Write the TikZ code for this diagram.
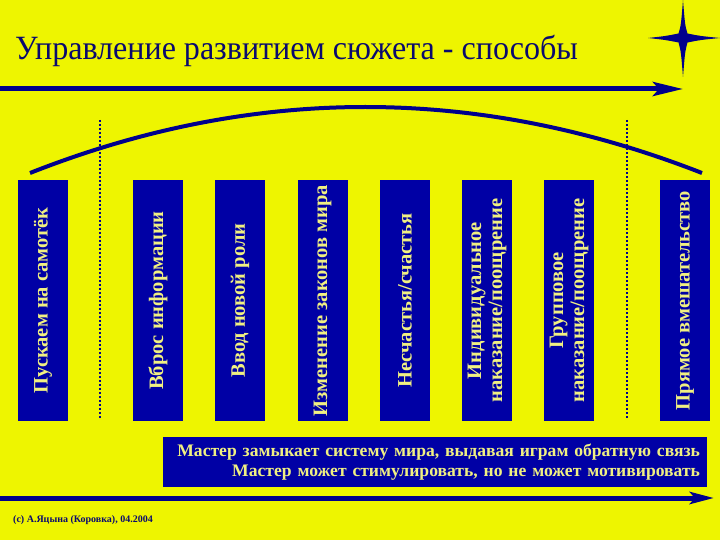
\documentclass[tikz,border=0pt]{standalone}
\usepackage{fontspec}
\setmainfont{Liberation Serif}
\usetikzlibrary{arrows.meta}
\definecolor{bgyellow}{RGB}{238,245,0}
\definecolor{boxblue}{RGB}{0,0,165}
\definecolor{linecol}{RGB}{0,0,140}
\definecolor{titlecol}{RGB}{10,10,110}
\definecolor{paleyellow}{RGB}{240,240,130}
\tikzset{
  vbox/.style={rotate=90, fill=boxblue, minimum width=241pt, minimum height=50pt,
    inner sep=0pt, text=paleyellow, font=\fontsize{20.5}{21}\selectfont\bfseries, align=center},
  guide/.style={draw=linecol, dotted, line width=2pt},
  mainline/.style={draw=linecol, line width=5pt},
}
\begin{document}
\begin{tikzpicture}[x=1pt, y=-1pt]
\fill[bgyellow] (0,0) rectangle (720,540);
\useasboundingbox (0,0) rectangle (720,540);
% title
\node[anchor=base west, inner sep=0pt, text=titlecol, font=\fontsize{34}{40}\selectfont] (title) at (15,60) {\scalebox{0.943}[1]{Управление развитием сюжета - способы}};
% star
\fill[linecol] (683,0) .. controls (685,25) .. (687.5,33.5) .. controls (700,36) .. (720,38)
  .. controls (700,40) .. (687.5,42.5) .. controls (685,52) .. (683,77)
  .. controls (681,52) .. (678.5,42.5) .. controls (666,40) .. (648,38)
  .. controls (666,36) .. (678.5,33.5) .. controls (681,25) .. (683,0) -- cycle;
% top arrow
\coordinate (ta) at (0,89);
\coordinate (tb) at (683,89);
\draw[mainline, -{Stealth[length=30pt,width=14pt,inset=6pt]}] (ta) -- (tb);
% bottom arrow
\coordinate (ba) at (0,498);
\coordinate (bb) at (714,498);
\draw[mainline, -{Stealth[length=24pt,width=12pt,inset=5pt]}] (ba) -- (bb);
% arc
\coordinate (arcA) at (30,173);
\coordinate (arcB) at (702,173);
\draw[linecol, line width=4pt] (arcA) .. controls (253,85) and (477,85) .. (arcB);
% dotted guides
\coordinate (g1a) at (100,120);
\coordinate (g1b) at (100,419);
\coordinate (g2a) at (627,120);
\coordinate (g2b) at (627,419);
\draw[guide] (g1a) -- (g1b);
\draw[guide] (g2a) -- (g2b);
% boxes
\node[vbox] (b1) at (43,300.5) {Пускаем на самотёк};
\node[vbox] (b2) at (158,300.5) {Вброс информации};
\node[vbox] (b3) at (240,300.5) {Ввод новой роли};
\node[vbox] (b4) at (322.5,300.5) {Изменение законов мира};
\node[vbox] (b5) at (405,300.5) {Несчастья/счастья};
\node[vbox] (b6) at (487,300.5) {Индивидуальное\\наказание/поощрение};
\node[vbox] (b7) at (569,300.5) {Групповое\\наказание/поощрение};
\node[vbox] (b8) at (685,300.5) {Прямое вмешательство};
% bottom box
\node[fill=boxblue, minimum width=544pt, minimum height=50pt, inner sep=0pt, text width=530pt, align=right,
  text=paleyellow, font=\fontsize{17.6}{20}\selectfont\bfseries] (note) at (435,462)
  {Мастер замыкает систему мира, выдавая играм обратную связь\\Мастер может стимулировать, но не может мотивировать};
% copyright
\node[anchor=west, inner sep=0pt, text=titlecol, font=\fontsize{10}{11}\selectfont\bfseries] (copy) at (13,520) {(c) А.Яцына (Коровка), 04.2004};
\end{tikzpicture}
\end{document}
